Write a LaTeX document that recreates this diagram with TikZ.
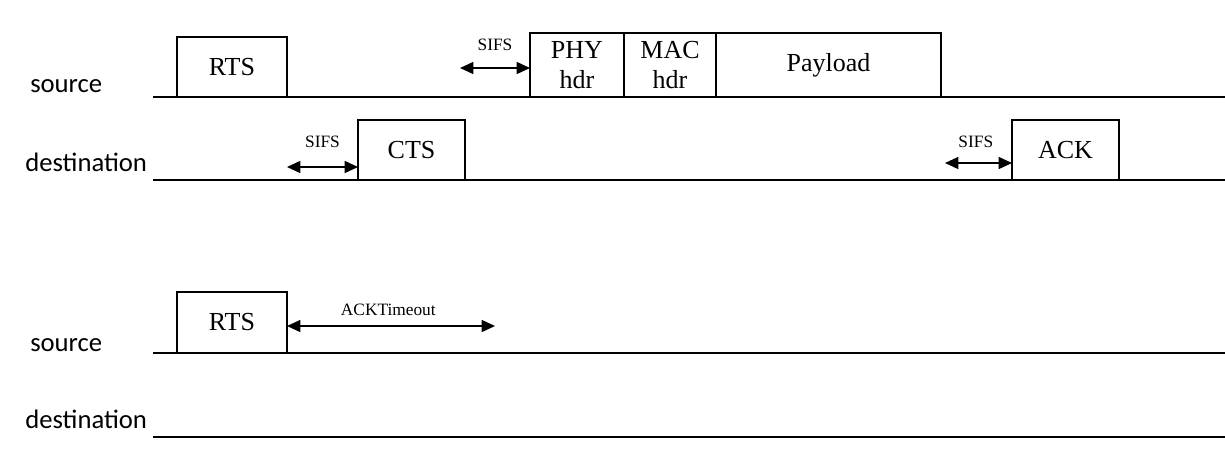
\documentclass[tikz,border=0pt]{standalone}
\usepackage{fontspec}
\setmainfont{Liberation Serif}
\newfontfamily\rowfont{Carlito}
\usetikzlibrary{positioning,arrows.meta}
\tikzset{
   frame/.style={draw, line width=1.4pt, inner sep=0pt, outer sep=0pt, anchor=south west,
                 align=center, font=\fontsize{19.5}{22}\selectfont},
   rowlabel/.style={anchor=base west, inner sep=0pt, font=\rowfont\fontsize{20}{24}\selectfont},
   timeline/.style={line width=0.9pt},
   gap/.style={<->, >={Triangle[length=10pt,width=9pt]}, line width=1.1pt},
   gaplabel/.style={font=\fontsize{13}{15}\selectfont}
}

\begin{document}
\begin{tikzpicture}[x=0.75pt,y=-0.75pt]
\useasboundingbox (0,0) rectangle (1225,451);
% RTS / CTS / data / ACK exchange
\node (srcA) [rowlabel] at (30,92) {source};
\node (dstA) [rowlabel] at (25,171) {destination};
\coordinate (srcAl) at (153,97);
\coordinate (srcAr) at (1225,97);
\coordinate (dstAl) at (153,180);
\coordinate (dstAr) at (1225,180);
\draw [timeline] (srcAl) -- (srcAr);
\draw [timeline] (dstAl) -- (dstAr);
\node (rts) [frame, minimum width=82.5pt, minimum height=45pt] at (177,97) {RTS};
\node (cts) [frame, minimum width=80.25pt, minimum height=45pt] at (358,180) {CTS};
\node (phy) [frame, minimum width=70.5pt, minimum height=48pt] at (530,97) {PHY\\hdr};
\node (mac) [frame, minimum width=69pt, minimum height=48pt, right=0pt of phy] {MAC\\hdr};
\node (pay) [frame, minimum width=168.75pt, minimum height=48pt, right=0pt of mac] {Payload};
\node (ack) [frame, minimum width=80.25pt, minimum height=45pt] at (1012,180) {ACK};
\coordinate (sifs1) at (460,68);
\coordinate (sifs2) at (287,167);
\coordinate (sifs3) at (945,163);
\draw [gap] (sifs1) -- node[gaplabel, yshift=17pt] {SIFS} (phy.west |- sifs1);
\draw [gap] (sifs2) -- node[gaplabel, yshift=19pt] {SIFS} (cts.west |- sifs2);
\draw [gap] (sifs3) -- node[gaplabel, yshift=16pt, xshift=-2pt] {SIFS} (ack.west |- sifs3);
% RTS with no answer
\node (srcB) [rowlabel] at (30,351) {source};
\node (dstB) [rowlabel] at (25,428) {destination};
\coordinate (srcBl) at (153,353);
\coordinate (srcBr) at (1225,353);
\coordinate (dstBl) at (153,437);
\coordinate (dstBr) at (1225,437);
\draw [timeline] (srcBl) -- (srcBr);
\draw [timeline] (dstBl) -- (dstBr);
\node (rts2) [frame, minimum width=82.5pt, minimum height=45.75pt] at (177,353) {RTS};
\coordinate (tout) at (495,326);
\draw [gap] (rts2.east |- tout) -- node[gaplabel, yshift=12pt, xshift=-2pt] {ACKTimeout} (tout);
\end{tikzpicture}
\end{document}
